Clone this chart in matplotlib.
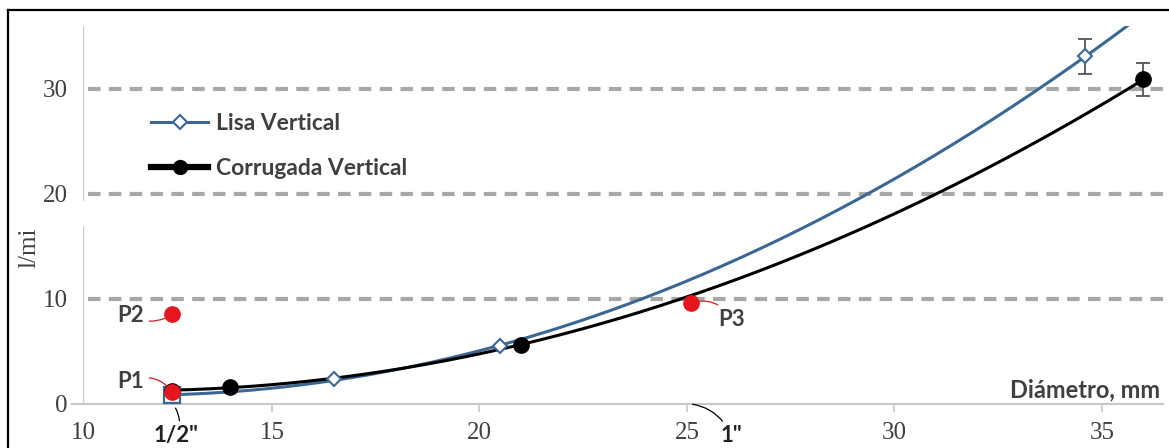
import numpy as np
import matplotlib
matplotlib.use("Agg")
import matplotlib.pyplot as plt
from matplotlib.lines import Line2D

# ---- data: flow (l/min) versus pipe diameter (mm) ----
lisa_d = [12.6, 16.5, 20.5, 34.6]
lisa_q = [0.8, 2.3, 5.5, 33.1]
lisa_err = [0.0, 0.0, 0.0, 1.7]

corr_d = [12.6, 14.0, 21.0, 36.0]
corr_q = [1.2, 1.6, 5.6, 30.9]
corr_err = [0.0, 0.0, 0.0, 1.6]

ref_labels = ["P1", "P2", "P3"]
ref_d = [12.6, 12.6, 25.1]
ref_q = [1.1, 8.5, 9.6]

nominal_labels = ['1/2"', '1"']
nominal_d = [12.6, 25.0]

x_tick_values = [15, 20, 25, 30, 35]
x_tick_labels = ["15", "20", "25", "30", "35"]
y_tick_values = [0, 10, 20, 30]
grid_levels = [10, 20, 30]

series_names = ["Lisa Vertical", "Corrugada Vertical"]

# ---- style ----
BLUE = "#3b6795"
GRID = "#a8a8a8"
AXIS = "#c9c9c9"
TXT = "#404040"
RED = "#e5161d"
SANS = "Lato"
SERIF = "Liberation Serif"

W, H = 1169, 448
fig = plt.figure(figsize=(W / 100, H / 100), dpi=100)
fig.patch.set_facecolor("white")

x0, x1 = 10.446, 36.47
y0, y1 = 0.0, 36.0
ax = fig.add_axes([83 / W, 44.5 / H, 1080 / W, 377.5 / H])
ax.set_xlim(x0, x1)
ax.set_ylim(y0, y1)
for s in ax.spines.values():
    s.set_visible(False)

# axis lines
ax.plot([-11 / 1080, 1], [0, 0], transform=ax.transAxes, color=AXIS, lw=1.6,
        clip_on=False, zorder=1)
ax.axvline(x0, ymin=0, ymax=16.7 / y1, color=AXIS, lw=1.6, zorder=1)
ax.axvline(x0, ymin=19.4 / y1, ymax=1, color=AXIS, lw=1.6, zorder=1)

# dashed reference lines
for lvl in grid_levels:
    ax.axhline(lvl, xmin=5 / 1080, xmax=1, color=GRID, lw=3.0,
               linestyle=(0, (3, 2)), zorder=0)

# ticks
ax.set_xticks([x0] + x_tick_values)
ax.set_xticklabels(["10"] + x_tick_labels)
ax.set_yticks(y_tick_values)
ax.tick_params(axis="x", length=6, width=1.2, color=AXIS, pad=7,
               labelsize=18, labelcolor=TXT)
ax.tick_params(axis="y", length=0, pad=11, labelsize=18, labelcolor=TXT)
ax.xaxis.get_major_ticks()[0].tick1line.set_visible(False)
for lab in ax.get_xticklabels() + ax.get_yticklabels():
    lab.set_fontfamily(SERIF)

# trend curves (quadratic least-squares fit of each series)
for d, q, col in [(lisa_d, lisa_q, BLUE), (corr_d, corr_q, "black")]:
    coef = np.polyfit(d, q, 2)
    xs = np.linspace(d[0], 36.0, 300)
    ax.plot(xs, np.polyval(coef, xs), color=col, lw=2.2, zorder=3)

# series markers
ax.plot(lisa_d[:1], lisa_q[:1], linestyle="none", marker="s", ms=11,
        mfc="white", mec=BLUE, mew=1.6, zorder=4)
ax.plot(lisa_d[1:], lisa_q[1:], linestyle="none", marker="D", ms=7.5,
        mfc="white", mec=BLUE, mew=1.5, zorder=4)
ax.plot(corr_d, corr_q, linestyle="none", marker="o", ms=11,
        mfc="black", mec="black", zorder=5)

# error bars
for d, q, e in [(lisa_d, lisa_q, lisa_err), (corr_d, corr_q, corr_err)]:
    idx = [i for i, v in enumerate(e) if v > 0]
    ax.errorbar([d[i] for i in idx], [q[i] for i in idx],
                yerr=[e[i] for i in idx], fmt="none", ecolor="#555555",
                elinewidth=1.3, capsize=5, capthick=1.3, zorder=3)

# reference points P1..P3
ax.plot(ref_d, ref_q, linestyle="none", marker="o", ms=11, color=RED, zorder=6)
offsets = [(-42, 10), (-42, -1), (40, -17)]
rads = [-0.4, 0.3, 0.4]
for lab, d, q, off, rad in zip(ref_labels, ref_d, ref_q, offsets, rads):
    ax.annotate(lab, xy=(d, q), xytext=off, textcoords="offset pixels",
                ha="center", va="center", fontsize=16, fontweight="bold",
                color=TXT, family=SANS, zorder=7,
                arrowprops=dict(arrowstyle="-", color="#cc1f1f", lw=0.9,
                                shrinkA=2, shrinkB=6,
                                connectionstyle=f"arc3,rad={rad}"))

# nominal pipe sizes below the axis
noff = [(4, -32), (44, -32)]
nrad = [0.3, 0.3]
for lab, d, off, rad in zip(nominal_labels, nominal_d, noff, nrad):
    ax.annotate(lab, xy=(d, 0), xytext=off, textcoords="offset pixels",
                ha="center", va="center", fontsize=16, fontweight="bold",
                color="#222222", family=SANS, annotation_clip=False,
                arrowprops=dict(arrowstyle="-", color="black", lw=0.9,
                                shrinkA=1, shrinkB=4,
                                connectionstyle=f"arc3,rad={rad}"))

# axis titles
ax.text(x0 + (1160 - 83) / 41.5, 6.5 / 377.5, "Diámetro, mm",
        transform=ax.get_xaxis_transform(), ha="right", va="baseline",
        fontsize=17, fontweight="bold", color=TXT, family=SANS)
fig.text(29 / W, 1 - 248 / H, "l/mi", rotation=90, ha="center", va="center",
         fontsize=18, family=SERIF, color=TXT)

# legend
handles = [
    Line2D([], [], color=BLUE, lw=2.2, marker="D", ms=7.5, mfc="white",
           mec=BLUE, mew=1.5),
    Line2D([], [], color="black", lw=4.5, marker="o", ms=10, mfc="black",
           mec="black"),
]
leg = ax.legend(handles, series_names, loc="upper left",
                bbox_to_anchor=((142 - 83) / 1080, (403.5 - 104) / 377.5),
                frameon=False, handlelength=2.5, handletextpad=0.35,
                labelspacing=1.05, borderaxespad=0,
                prop=dict(family=SANS, weight="bold", size=16.5))
for t in leg.get_texts():
    t.set_color(TXT)

# outer frame (top and left edges)
fig.add_artist(Line2D([8 / W, 1], [1 - 10 / H, 1 - 10 / H], color="black",
                      lw=1.6, transform=fig.transFigure))
fig.add_artist(Line2D([8 / W, 8 / W], [0, 1 - 10 / H], color="black",
                      lw=1.6, transform=fig.transFigure))

fig.savefig("out.png", dpi=100)
